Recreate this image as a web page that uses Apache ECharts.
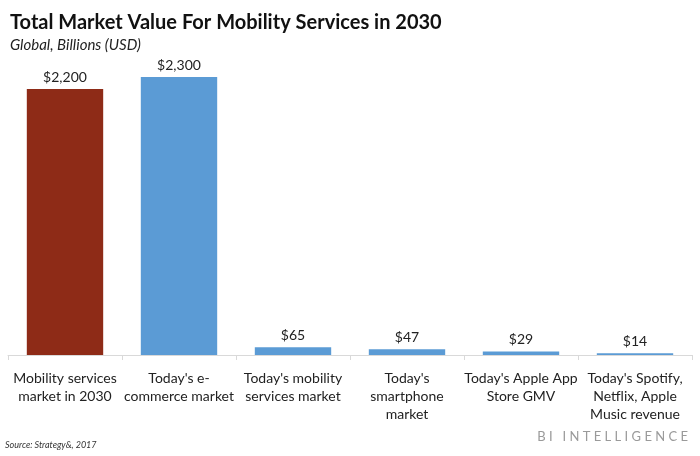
<!DOCTYPE html>
<html><head><meta charset="utf-8">
<script src="https://cdn.jsdelivr.net/npm/echarts@6/dist/echarts.min.js"></script>
<style>html,body{margin:0;padding:0;background:#fff}#c{width:700px;height:456px}</style>
</head><body><div id="c"></div>
<script>
const categories = ["Mobility services\nmarket in 2030","Today's e-\ncommerce market","Today's mobility\nservices market","Today's\nsmartphone\nmarket","Today's Apple App\nStore GMV","Today's Spotify,\nNetflix, Apple\nMusic revenue"];
const values = [2200, 2300, 65, 47, 29, 14];
const barColors = ["#8E2B17","#5B9BD5","#5B9BD5","#5B9BD5","#5B9BD5","#5B9BD5"];
const chart = echarts.init(document.getElementById('c'));
const F = 'Lato, "Open Sans", sans-serif';
chart.setOption({
  animation:false,
  title:[
    {text:'Total Market Value For Mobility Services in 2030',left:5,top:8,textStyle:{fontFamily:F,fontSize:20,fontWeight:'bold',color:'#111'}},
    {text:'Global, Billions (USD)',left:5,top:33,textStyle:{fontFamily:F,fontSize:15,fontStyle:'italic',fontWeight:'normal',color:'#222'}}
  ],
  graphic:[
    {type:'text',left:5,top:441,style:{text:'Source: Strategy&, 2017',font:'italic 9px '+F,fill:'#333'}},
    {type:'text',right:12,top:430,style:{text:'B I   I N T E L L I G E N C E',font:'13px '+F,fill:'#9a9a9a'}}
  ],
  grid:{left:8,right:8,top:77,bottom:101,containLabel:false},
  xAxis:{type:'category',data:categories,
    axisLine:{lineStyle:{color:'#d9d9d9'}},
    axisTick:{show:true,length:5,lineStyle:{color:'#d9d9d9'}},
    axisLabel:{interval:0,fontFamily:F,fontSize:14,color:'#222',lineHeight:18,margin:14}},
  yAxis:{type:'value',min:0,max:2300,show:false,splitLine:{show:false}},
  series:[{type:'bar',barCategoryGap:'33%',
    data:values.map((v,i)=>({value:v,itemStyle:{color:barColors[i]}})),
    label:{show:true,position:'top',distance:5,fontFamily:F,fontSize:14,color:'#222',
      formatter:p=>'$'+p.value.toLocaleString('en-US')}}]
});
</script></body></html>
